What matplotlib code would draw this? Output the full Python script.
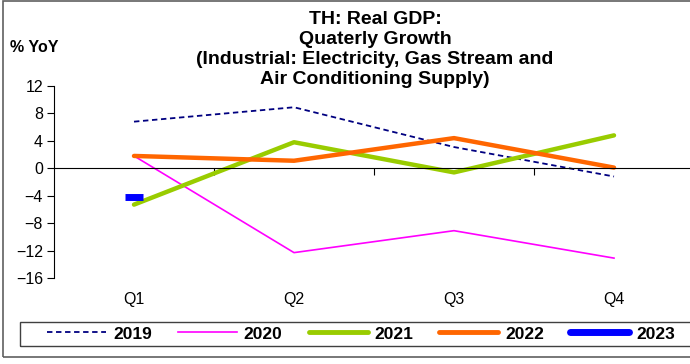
import numpy as np
import matplotlib
matplotlib.use('Agg')
import matplotlib.pyplot as plt
from matplotlib.lines import Line2D
from matplotlib.patches import Rectangle

plt.rcParams['font.family'] = ['Liberation Sans', 'DejaVu Sans']

quarters = ['Q1', 'Q2', 'Q3', 'Q4']
y2019 = [6.8, 8.9, 3.1, -1.2]
y2020 = [1.8, -12.3, -9.1, -13.1]
y2021 = [-5.3, 3.8, -0.6, 4.8]
y2022 = [1.8, 1.1, 4.4, 0.1]
y2023 = [-4.2]
yticks = [12, 8, 4, 0, -4, -8, -12, -16]
title_lines = ['TH: Real GDP:', 'Quaterly Growth',
               '(Industrial: Electricity, Gas Stream and', 'Air Conditioning Supply)']

fig = plt.figure(figsize=(6.9, 3.64), dpi=100)
ax = fig.add_axes([54 / 690, 1 - 278 / 364, 640 / 690, 192 / 364])
x = np.arange(len(quarters))

ax.plot(x, y2019, color='#000080', lw=1.3, linestyle=(0, (3, 2)))
ax.plot(x, y2020, color='#FF00FF', lw=1.2)
ax.plot(x, y2021, color='#99CC00', lw=3.2, solid_capstyle='round')
ax.plot(x, y2022, color='#FF6600', lw=3.2, solid_capstyle='round')
ax.plot(x[:len(y2023)], y2023, color='#0000FF', marker='_', markersize=13,
        markeredgewidth=5, linestyle='none')

ax.set_xlim(-0.5, 3.5)
ax.set_ylim(-16, 12)
ax.set_yticks(yticks)
ax.tick_params(axis='y', direction='out', length=5, width=0.8, labelsize=11.5, pad=3)

# category axis crossing at zero, labels at the bottom
ax.spines['top'].set_visible(False)
ax.spines['right'].set_visible(False)
ax.spines['bottom'].set_position(('data', 0))
ax.set_xticks([])
ax.set_xticks([0.5, 1.5, 2.5], minor=True)
ax.tick_params(axis='x', which='minor', direction='out', length=5, width=0.8)

sec = ax.secondary_xaxis(location=0.0)
sec.set_xticks(x)
sec.set_xticklabels(quarters)
sec.spines['bottom'].set_visible(False)
sec.tick_params(length=0, labelsize=11.5, pad=10)

# title, one line every 20 px
for i, line in enumerate(title_lines):
    fig.text(375 / 690, 1 - (19 + 20 * i) / 364, line, ha='center', va='center',
             fontsize=14, fontweight='bold')
fig.text(10 / 690, 1 - 48 / 364, '% YoY', ha='left', va='center',
         fontsize=11.5, fontweight='bold')

handles = [
    Line2D([], [], color='#000080', lw=1.3, linestyle=(0, (3, 2))),
    Line2D([], [], color='#FF00FF', lw=1.2),
    Line2D([], [], color='#99CC00', lw=3.5, solid_capstyle='round'),
    Line2D([], [], color='#FF6600', lw=3.5, solid_capstyle='round'),
    Line2D([], [], color='#0000FF', lw=5, solid_capstyle='round'),
]
labels = ['2019', '2020', '2021', '2022', '2023']
leg = fig.legend(handles, labels, ncol=5, loc='center left',
                 bbox_to_anchor=(47 / 690, 1 - 334 / 364),
                 prop={'weight': 'bold', 'size': 12.5}, frameon=False,
                 handlelength=3.4, handletextpad=0.4, columnspacing=1.5,
                 borderpad=0, borderaxespad=0)

# legend box and outer chart border
fig.patches.append(Rectangle((20 / 690, 1 - 346 / 364), 680 / 690, 24 / 364,
                             transform=fig.transFigure, fill=False,
                             edgecolor='#404040', lw=1.0))
fig.patches.append(Rectangle((3 / 690, 7 / 364), 1.0, 1 - 8 / 364, transform=fig.transFigure,
                             fill=False, edgecolor='#606060', lw=1.2))

fig.savefig('out.png', dpi=100)
